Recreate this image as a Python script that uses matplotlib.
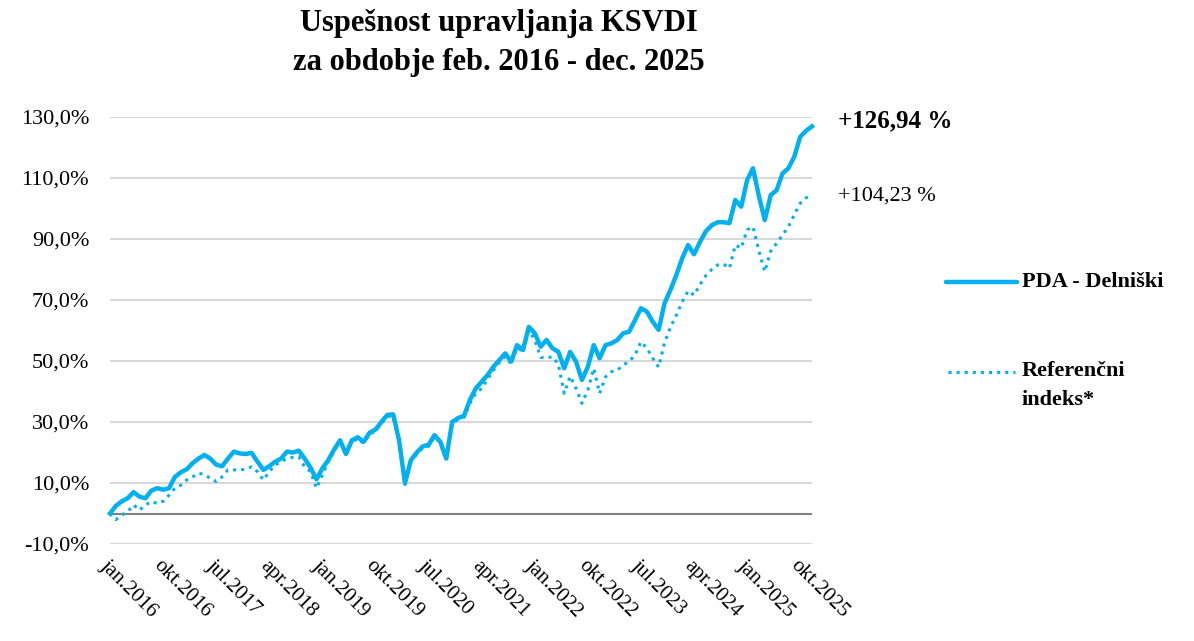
import matplotlib.pyplot as plt
from matplotlib.lines import Line2D

# Monthly cumulative return (%) from jan.2016 to dec.2025
pda = [0, 2.5, 4, 5, 7, 5.5, 5, 7.5, 8.3, 7.8, 8.3, 12,
       13.5, 14.5, 16.5, 18, 19.2, 18, 16, 15.5, 18, 20.3, 19.7, 19.5,
       19.9, 17, 14.3, 15.5, 17, 18, 20.3, 20, 20.6, 18, 15, 11.2,
       14.8, 17.5, 21, 24, 19.5, 24, 25, 23.5, 26.5, 27.5, 30, 32.3,
       32.5, 24, 10, 17.5, 20, 22, 22.5, 25.7, 23.5, 18, 30, 31.3,
       32, 37.2, 41, 43.2, 45.4, 48.1, 50.3, 52.5, 49.8, 55.2, 53.6, 61.2,
       59.1, 54.7, 56.9, 54.2, 53, 47.6, 53, 49.8, 43.8, 48.1, 55.2, 50.9,
       55.2, 55.8, 56.9, 59.1, 59.6, 63.4, 67.3, 66.2, 62.9, 60.2, 68.9, 73.3,
       78.2, 83.7, 88, 85, 89, 92.5, 94.5, 95.5, 95.5, 95.2, 102.8, 100.6,
       109.3, 113.2, 104, 96.2, 104.4, 106, 111.5, 113.2, 117, 123.5, 125.5, 126.94]

ref = [0, -2, -0.5, 0.6, 2.8, 1.1, 2.8, 3.9, 3.3, 4, 6, 8.3,
       9.3, 11, 12, 13.2, 12.8, 11.5, 10.5, 12, 14.3, 14.3, 14.3, 14.5,
       15.3, 13.7, 11, 13.7, 15.9, 17, 18, 18.4, 18.6, 15.3, 13.7, 8.3,
       12.6, 17, 20.5, 23.5, 19, 23.5, 24.5, 23, 26, 27, 29.5, 31.8,
       32, 23.5, 9.5, 17, 19.5, 21.5, 22, 25.2, 23, 17.5, 29.5, 30.8,
       31.5, 36, 39.5, 41, 44, 47, 49.5, 51.5, 49, 54.5, 53, 60,
       57, 51.2, 51, 51.4, 49, 39.4, 45, 41, 36.1, 40.5, 47.6, 39.4,
       44.8, 46.5, 47, 48.7, 49.8, 52, 56.3, 54.2, 50.9, 48, 56, 61,
       65, 69.4, 73, 71.6, 75, 78, 80, 81.5, 81.8, 80.4, 88, 87,
       93, 94, 86, 79.3, 86, 88.6, 91.3, 94, 98, 101.7, 103.5, 104.23]

month_names = ["jan", "feb", "mar", "apr", "maj", "jun",
               "jul", "avg", "sep", "okt", "nov", "dec"]
start_year = 2016
y_ticks = [-10, 10, 30, 50, 70, 90, 110, 130]

blue = "#00B0F0"
W, H = 1194, 641

plt.rcParams["font.family"] = ["Liberation Serif", "DejaVu Serif"]

fig = plt.figure(figsize=(W / 100, H / 100), dpi=100)
ax = fig.add_axes([110 / W, 1 - 544 / H, (812 - 110) / W, (544 - 117) / H])

x = list(range(len(pda)))
ax.plot(x, ref, color=blue, lw=2.2, ls=":", clip_on=False, zorder=3)
ax.plot(x, pda, color=blue, lw=3.2, clip_on=False, zorder=4,
        solid_joinstyle="round")

ax.set_xlim(0, len(pda) - 1)
ax.set_ylim(-10, 130)

ax.set_yticks(y_ticks)
ax.set_yticklabels([f"{v:.1f}%".replace(".", ",") for v in y_ticks], fontsize=16)
ax.grid(axis="y", color="#d9d9d9", lw=1.5)
ax.axhline(0, color="#808080", lw=1.5, zorder=2)

tick_pos = list(range(0, len(pda), 9))
tick_lab = [f"{month_names[i % 12]}.{start_year + i // 12}" for i in tick_pos]
ax.set_xticks(tick_pos)
ax.set_xticklabels(tick_lab, fontsize=15, rotation=-45, ha="left", va="top",
                   rotation_mode="anchor")
ax.tick_params(axis="both", length=0)
ax.tick_params(axis="y", pad=15)
ax.tick_params(axis="x", pad=9)
ax.set_axisbelow(True)
for s in ax.spines.values():
    s.set_visible(False)

# end-of-series labels
ax.annotate(f"+{pda[-1]:.2f} %".replace(".", ","), xy=(x[-1], pda[-1]),
            xytext=(19, 4), textcoords="offset points", fontsize=18,
            fontweight="bold", va="center", ha="left", annotation_clip=False)
ax.annotate(f"+{ref[-1]:.2f} %".replace(".", ","), xy=(x[-1], ref[-1]),
            xytext=(19, 0), textcoords="offset points", fontsize=16,
            va="center", ha="left", annotation_clip=False)

fig.text(499 / W, 1 - 9 / H, "Uspešnost upravljanja KSVDI\nza obdobje feb. 2016 - dec. 2025",
         ha="center", va="top", fontsize=22, fontweight="bold", linespacing=1.45)

# legend drawn by hand on the right
fig.add_artist(Line2D([946 / W, 1017 / W], [1 - 282 / H] * 2, color=blue, lw=3.2,
                      solid_capstyle="round", transform=fig.transFigure))
fig.add_artist(Line2D([948 / W, 1015 / W], [1 - 372 / H] * 2, color=blue, lw=2.2,
                      ls=":", transform=fig.transFigure))
fig.text(1022 / W, 1 - 282 / H, "PDA - Delniški", fontsize=16, fontweight="bold",
         va="center", ha="left")
fig.text(1022 / W, 1 - 361 / H, "Referenčni\nindeks*", fontsize=16, fontweight="bold",
         va="top", ha="left", linespacing=1.6)

fig.savefig("out.png", dpi=100)
